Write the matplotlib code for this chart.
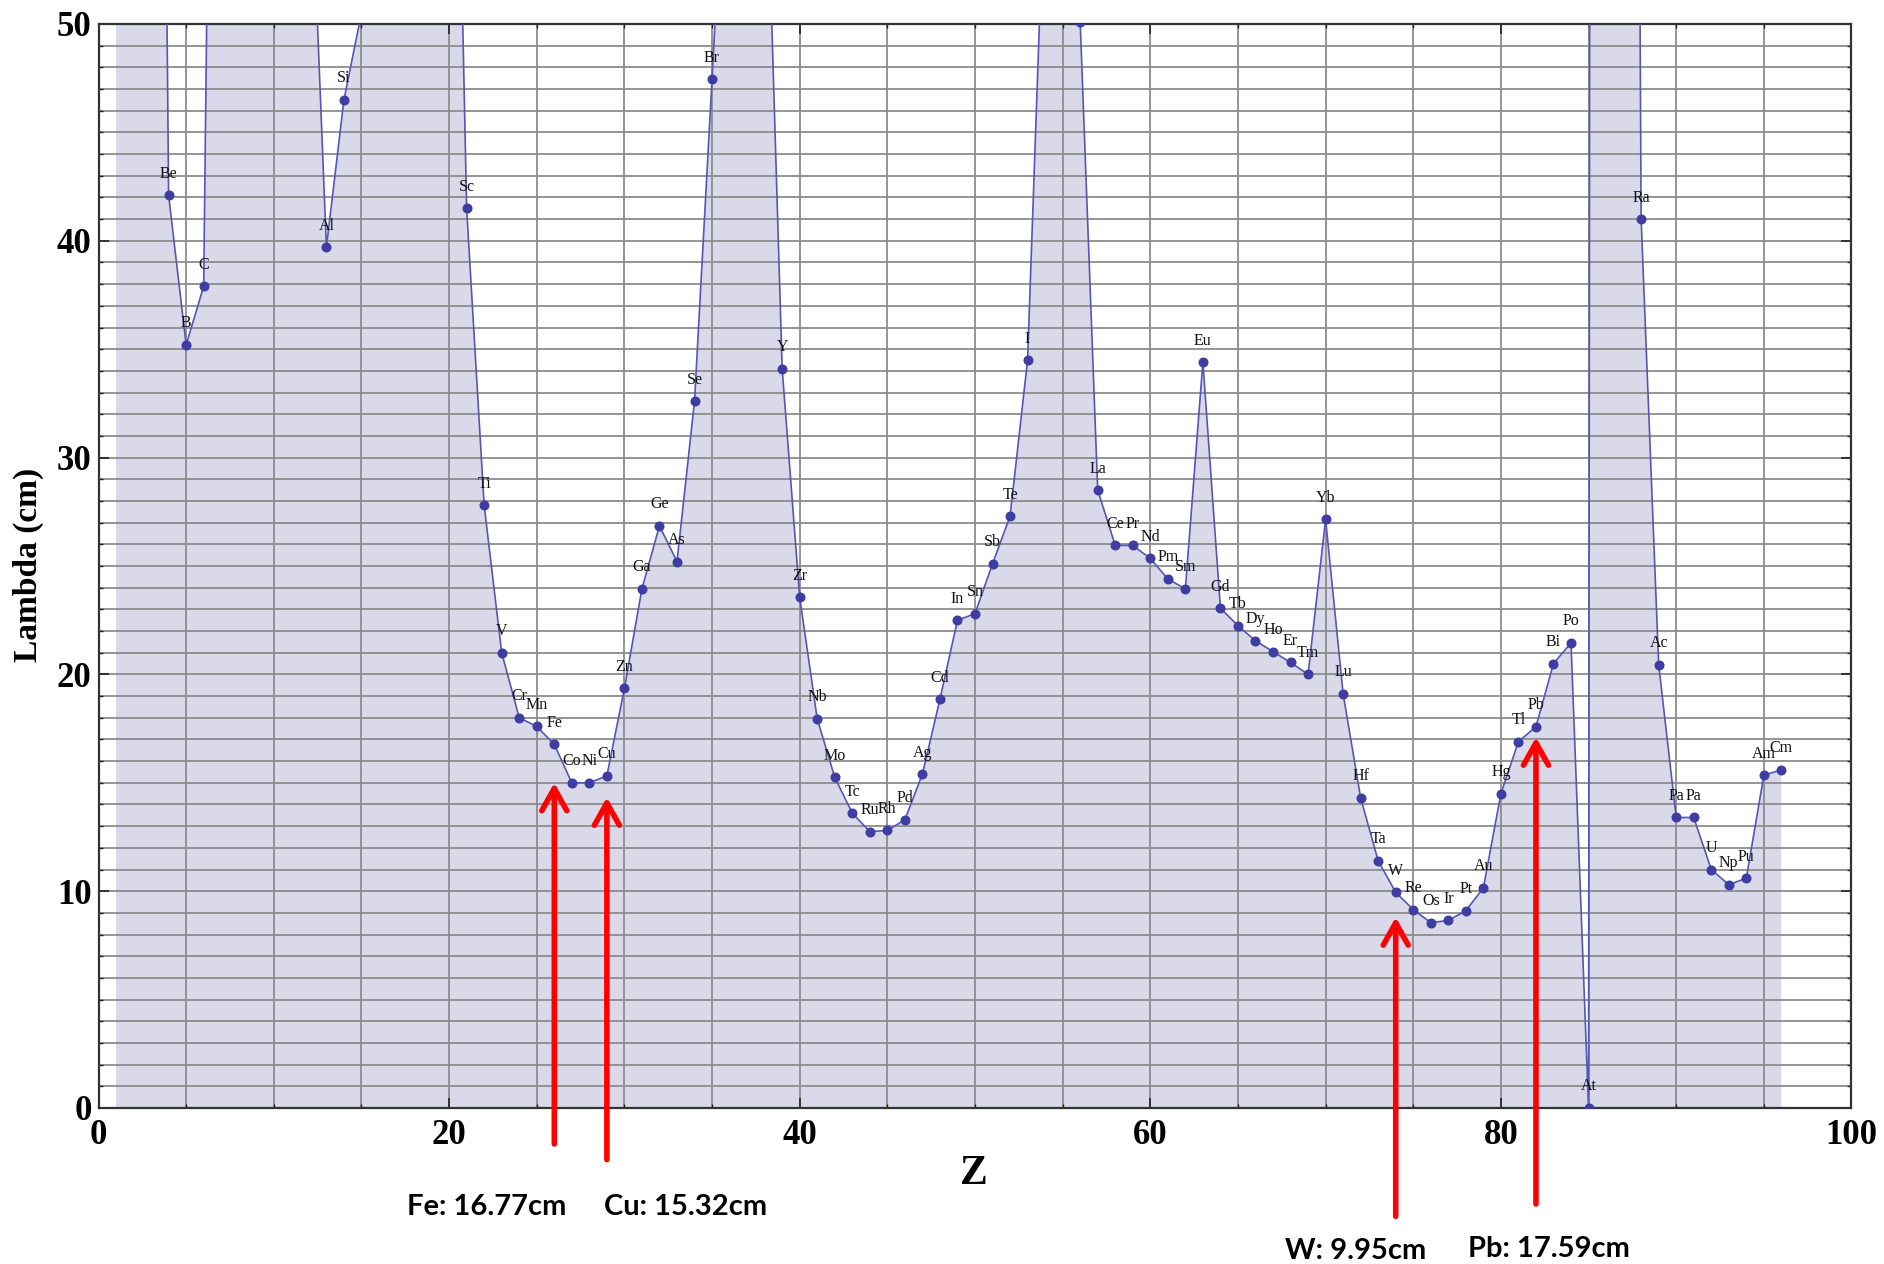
import matplotlib
matplotlib.use('Agg')
import matplotlib.pyplot as plt
from matplotlib.ticker import MultipleLocator

# ---- data -------------------------------------------------------------
z_numbers = list(range(1, 97))
symbols = ['H', 'He', 'Li', 'Be', 'B', 'C', 'N', 'O', 'F', 'Ne',
           'Na', 'Mg', 'Al', 'Si', 'P', 'S', 'Cl', 'Ar', 'K', 'Ca',
           'Sc', 'Ti', 'V', 'Cr', 'Mn', 'Fe', 'Co', 'Ni', 'Cu', 'Zn',
           'Ga', 'Ge', 'As', 'Se', 'Br', 'Kr', 'Rb', 'Sr', 'Y', 'Zr',
           'Nb', 'Mo', 'Tc', 'Ru', 'Rh', 'Pd', 'Ag', 'Cd', 'In', 'Sn',
           'Sb', 'Te', 'I', 'Xe', 'Cs', 'Ba', 'La', 'Ce', 'Pr', 'Nd',
           'Pm', 'Sm', 'Eu', 'Gd', 'Tb', 'Dy', 'Ho', 'Er', 'Tm', 'Yb',
           'Lu', 'Hf', 'Ta', 'W', 'Re', 'Os', 'Ir', 'Pt', 'Au', 'Hg',
           'Tl', 'Pb', 'Bi', 'Po', 'At', 'Rn', 'Fr', 'Ra', 'Ac', 'Pa',
           'Pa', 'U', 'Np', 'Pu', 'Am', 'Cm']
lambda_cm = [734, 568, 130, 42.1, 35.2, 37.9, 109, 79, 62, 80,
             106, 60, 39.7, 46.5, 50.5, 56, 74, 86, 137, 80,
             41.5, 27.8, 21.0, 18.0, 17.6, 16.77, 15.0, 15.0, 15.32, 19.35,
             23.95, 26.85, 25.2, 32.6, 47.45, 63, 100, 61, 34.1, 23.55,
             17.95, 15.25, 13.6, 12.75, 12.8, 13.3, 15.4, 18.85, 22.5, 22.8,
             25.1, 27.3, 34.5, 57.5, 90, 50.1, 28.5, 25.95, 25.95, 25.35,
             24.4, 23.95, 34.4, 23.05, 22.25, 21.55, 21.05, 20.55, 20.0, 27.15,
             19.1, 14.3, 11.4, 9.95, 9.15, 8.55, 8.65, 9.1, 10.15, 14.5,
             16.9, 17.59, 20.5, 21.45, 0.0, 800, 190, 41.0, 20.45, 13.4,
             13.4, 11.0, 10.3, 10.6, 15.35, 15.6]

# highlighted elements (red arrows)
arrow_z = [26, 29, 74, 82]
arrow_tip = [15.0, 14.33, 8.8, 17.1]
arrow_tail = [-1.66, -2.38, -5.0, -4.43]
arrow_text = ['Fe: 16.77cm', 'Cu: 15.32cm', 'W: 9.95cm', 'Pb: 17.59cm']
arrow_text_px = [(487, 1207), (686, 1207), (1356, 1251), (1549, 1249)]

x_ticks = [0, 20, 40, 60, 80, 100]
y_ticks = [0, 10, 20, 30, 40, 50]

# ---- figure -----------------------------------------------------------
W, H = 1884, 1264
fig = plt.figure(figsize=(W / 100, H / 100), dpi=100)
L, R, T, B = 98.5, 1851.5, 24, 1108
ax = fig.add_axes([L / W, 1 - B / H, (R - L) / W, (B - T) / H])
ax.set_xlim(0, 100)
ax.set_ylim(0, 50)

serif = ['Liberation Serif', 'DejaVu Serif']

ax.fill_between(z_numbers, 0, lambda_cm, color='#d9d9ea', lw=0, zorder=0.2)
ax.plot(z_numbers, lambda_cm, '-', color='#5656b6', lw=1.2, zorder=3)
ax.plot(z_numbers, lambda_cm, 'o', ms=6.2, color='#3d3da2', zorder=4)

for zz, v, s in zip(z_numbers, lambda_cm, symbols):
    if v <= 50:
        ax.annotate(s, (zz, v), xytext=(0, 15.5), textcoords='offset points',
                    ha='center', va='center', fontsize=11.5, family=serif,
                    color='#111111', zorder=5)

# grid / ticks
ax.set_axisbelow(True)
ax.xaxis.set_minor_locator(MultipleLocator(5))
ax.yaxis.set_minor_locator(MultipleLocator(1))
ax.set_xticks(x_ticks)
ax.set_yticks(y_ticks)
ax.grid(which='both', color='#8c8c8c', lw=1.3)
ax.tick_params(which='both', direction='in', top=True, right=True,
               color='#222222')
ax.tick_params(which='major', length=7, width=1.2)
ax.tick_params(which='minor', length=3, width=1.0)
ax.tick_params(axis='x', pad=8)
ax.tick_params(axis='y', pad=5)
for lab in ax.get_xticklabels() + ax.get_yticklabels():
    lab.set_fontfamily(serif)
    lab.set_fontweight('bold')
    lab.set_fontsize(25)
for sp in ax.spines.values():
    sp.set_color('#333333')
    sp.set_linewidth(1.6)

ax.text((28 - L) / (R - L), (B - 565) / (B - T), 'Lambda (cm)', rotation=90,
        transform=ax.transAxes, ha='center', va='center', fontsize=24,
        fontweight='bold', family=serif)
ax.text((974 - L) / (R - L), -(1174 - B) / (B - T), 'Z',
        transform=ax.transAxes, ha='center', va='center', fontsize=30,
        fontweight='bold', family=serif)

# red arrows + captions
for zz, tip, tail, txt, (px, py) in zip(arrow_z, arrow_tip, arrow_tail,
                                        arrow_text, arrow_text_px):
    ax.annotate('', xy=(zz, tip), xytext=(zz, tail),
                arrowprops=dict(arrowstyle='->,head_length=0.8,head_width=0.45',
                                color='#ff0000', lw=4, mutation_scale=20,
                                shrinkA=0, shrinkB=0),
                annotation_clip=False, zorder=6)
    fig.text(px / W, 1 - py / H, txt, ha='center', va='center', fontsize=21,
             fontweight='bold', family=['Lato', 'DejaVu Sans'])

fig.savefig('out.png', dpi=100)
